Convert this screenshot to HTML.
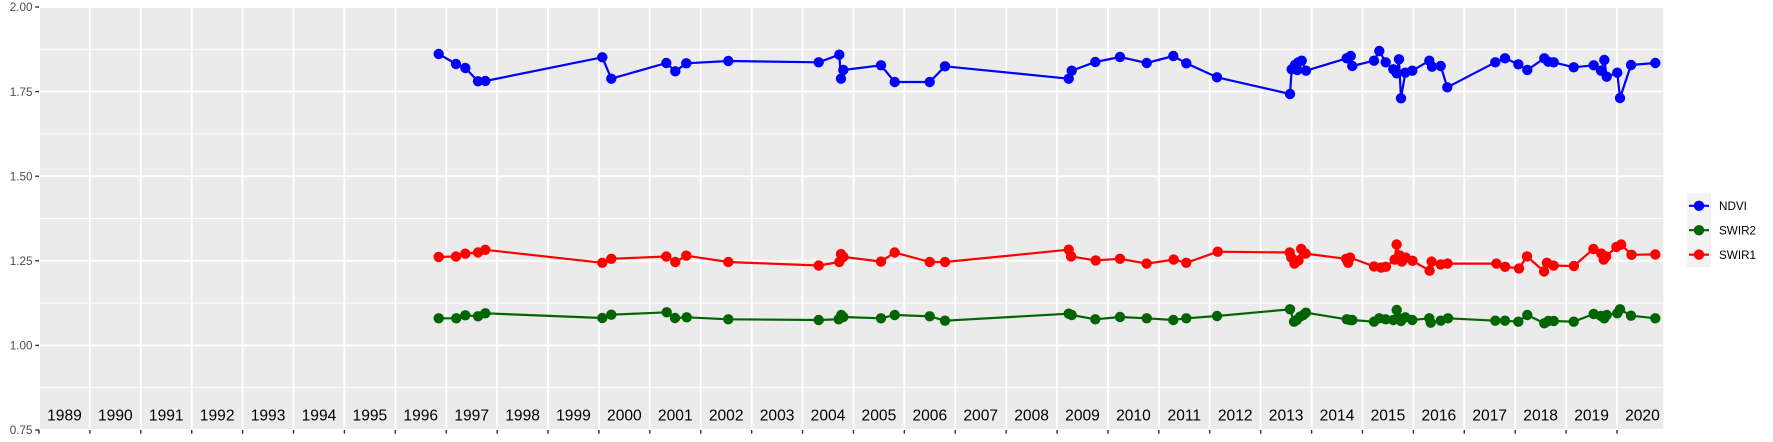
<!DOCTYPE html>
<html><head><meta charset="utf-8"><style>
html,body{margin:0;padding:0;background:#fff;}
svg{display:block;}
text{font-family:"Liberation Sans",Arial,sans-serif;}
</style></head><body>
<svg id="c" width="1773" height="442" viewBox="0 0 1773 442" xmlns="http://www.w3.org/2000/svg">
<defs><clipPath id="pc"><rect x="39" y="7" width="1624.3" height="423"/></clipPath></defs>
<rect width="1773" height="442" fill="#fff"/>
<rect x="39" y="7" width="1624.3" height="423" fill="#EBEBEB"/>
<g id="grid" clip-path="url(#pc)"></g>
<g id="labels"></g>
<g id="series" clip-path="url(#pc)"></g>
<g id="axes"></g>
<g id="legend">
<rect x="1687" y="193.5" width="24" height="73.5" fill="#F2F2F2"/>
<line x1="1689" y1="205.8" x2="1709" y2="205.8" stroke="#0000FF" stroke-width="2.2"/>
<circle cx="1699" cy="205.8" r="5.2" fill="#0000FF"/>
<line x1="1689" y1="230.2" x2="1709" y2="230.2" stroke="#006400" stroke-width="2.2"/>
<circle cx="1699" cy="230.2" r="5.2" fill="#006400"/>
<line x1="1689" y1="254.6" x2="1709" y2="254.6" stroke="#FF0000" stroke-width="2.2"/>
<circle cx="1699" cy="254.6" r="5.2" fill="#FF0000"/>
<text x="1719" y="210" font-size="11.7" fill="#000">NDVI</text>
<text x="1719" y="234.4" font-size="11.7" fill="#000">SWIR2</text>
<text x="1719" y="258.8" font-size="11.7" fill="#000">SWIR1</text>
</g>
</svg>
<script>
(function(){
var NS="http://www.w3.org/2000/svg";
function el(p,t,a,txt){var e=document.createElementNS(NS,t);for(var k in a)e.setAttribute(k,a[k]);if(txt!==undefined)e.textContent=txt;p.appendChild(e);return e;}
var grid=document.getElementById("grid"),labels=document.getElementById("labels"),axes=document.getElementById("axes"),series=document.getElementById("series");
var X0=39,DX=50.903;
function yv(v){return 7+(2-v)*338.4;}
[1.875,1.625,1.375,1.125,0.875].forEach(function(v){el(grid,"line",{x1:39,x2:1663.3,y1:yv(v),y2:yv(v),stroke:"#fff","stroke-width":0.95});});
[2,1.75,1.5,1.25,1,0.75].forEach(function(v){el(grid,"line",{x1:39,x2:1663.3,y1:yv(v),y2:yv(v),stroke:"#fff","stroke-width":1.9});});
for(var k=0;k<=31;k++){var x=X0+k*DX;el(grid,"line",{x1:x,x2:x,y1:7,y2:430,stroke:"#fff","stroke-width":1.9});
 el(axes,"line",{x1:x,x2:x,y1:430,y2:433.7,stroke:"#333","stroke-width":1.42});}
for(var k=0;k<32;k++){el(labels,"text",{x:X0+(k+0.5)*DX,y:420.5,"font-size":15.6,"text-anchor":"middle",fill:"#000"},String(1989+k));}
[[2,"2.00"],[1.75,"1.75"],[1.5,"1.50"],[1.25,"1.25"],[1,"1.00"],[0.75,"0.75"]].forEach(function(p){var y=yv(p[0]);
 el(axes,"line",{x1:35.3,x2:39,y1:y,y2:y,stroke:"#333","stroke-width":1.42});
 el(axes,"text",{x:32.5,y:y+4.2,"font-size":11.7,"text-anchor":"end",fill:"#4D4D4D"},p[1]);});
var ndvi=[438.7,54,456,64,465.3,68,478,81.3,485.3,81,602.3,57.3,611.3,78.7,666.3,63,675.3,71.3,686.3,63.3,728.3,61,818.7,62.3,839.3,54.7,841,78.7,843.3,70,881,65.3,894.7,82,929.7,82,945,66.3,1068.7,78.7,1071.7,70.7,1095.3,62,1120,57,1146.7,63,1173.3,56,1186.3,63.3,1217,77.3,1290,94,1291.7,69.3,1295,65,1297.3,70,1298.3,62.3,1301.7,60.7,1306,70.7,1346.7,58.3,1350.7,56,1352.3,66,1374,60.7,1379.3,51,1385.7,62.3,1393.3,69.3,1396.7,73.3,1399,59.3,1401,98.3,1405.3,72.7,1412.3,70.7,1429.3,60.7,1432,66.7,1440.7,66,1447.3,87.3,1495.3,62.3,1505,58.3,1518.3,64.3,1527.3,70,1544.3,58.3,1548.3,61.7,1553.7,62.3,1573.7,67.3,1593.7,65.3,1601,70.7,1604.3,60,1606.7,76.7,1617.3,72.7,1620,98,1631,65,1655.3,63];
var swir2=[438.7,318.3,456.3,318.3,465.3,315.3,478,316.3,485.3,313.3,602.3,318,611.3,314.7,666.7,312.3,675,318,686.7,317.3,728.3,319.3,818.7,320,838.7,319.3,841.3,315,843.3,317,881,318.3,894.7,315,929.7,316.3,945,320.7,1068.7,313.7,1071.7,315,1095.3,319.3,1120,317,1146.7,318.3,1173.3,320,1186.3,318.3,1217,316,1290,309.3,1294,321.7,1296.7,320,1300,316.7,1303.3,315,1306,312.7,1346.7,319.3,1350,320,1352.3,320,1374,321.7,1379.3,318.3,1385.7,319.3,1393.3,320,1396.7,310,1399,318.3,1401,321,1405.3,317.3,1412.3,320,1429.3,318.3,1430.7,322.7,1440.7,320.7,1448,318.3,1495.3,320.7,1505,320.7,1518.3,321.7,1527.3,315,1544.3,323.3,1548.3,321,1553.7,321,1573.7,321.7,1593.7,314,1601,316,1604.3,318.3,1606.7,315,1617.3,313.3,1620,309.3,1631,315.7,1655.3,318.3];
var swir1=[438.7,256.9,456,256.5,465.3,253.7,478,252.5,485.3,249.8,602.3,262.8,611.3,258.8,666.3,256.5,675.3,262,686.3,255.7,728.3,262,818.7,265.5,839.3,262,841,254.1,843.3,256.9,881,261.6,894.7,252.5,929.7,262,945,262,1068.7,249.7,1071.1,256.4,1095.7,260.4,1120,258.8,1146.6,263.6,1173.7,259.6,1186.3,262.8,1217.7,251.7,1289.7,252.5,1291.3,257.6,1294.5,263.6,1298.5,260.4,1301.2,248.9,1305.6,253.6,1346.1,258.8,1348.1,262.8,1350.1,257.6,1374,266.4,1381.1,267.6,1385.9,266.8,1394.6,259.6,1396.6,244.5,1399.8,255.6,1401.8,261.6,1405.7,257.6,1412.5,260.8,1429.6,270.7,1431.6,261.6,1440.7,264.4,1447.5,263.6,1496.4,263.6,1505.1,266.8,1519,268.4,1527,256.4,1544.1,271.5,1546.9,262.8,1553.6,265.6,1573.9,266,1593.4,248.9,1601.3,253.6,1603.7,259.6,1606.1,256.4,1616.4,246.9,1621.2,244.5,1631.5,254.8,1655.3,254.4];
function draw(d,c){var pts=[];for(var i=0;i<d.length;i+=2)pts.push(d[i]+","+d[i+1]);
 el(series,"polyline",{points:pts.join(" "),fill:"none",stroke:c,"stroke-width":2.2,"stroke-linejoin":"round","stroke-linecap":"round"});
 for(var i=0;i<d.length;i+=2)el(series,"circle",{cx:d[i],cy:d[i+1],r:5.2,fill:c});}
draw(ndvi,"#0000FF");draw(swir2,"#006400");draw(swir1,"#FF0000");
})();
</script>
</body></html>
